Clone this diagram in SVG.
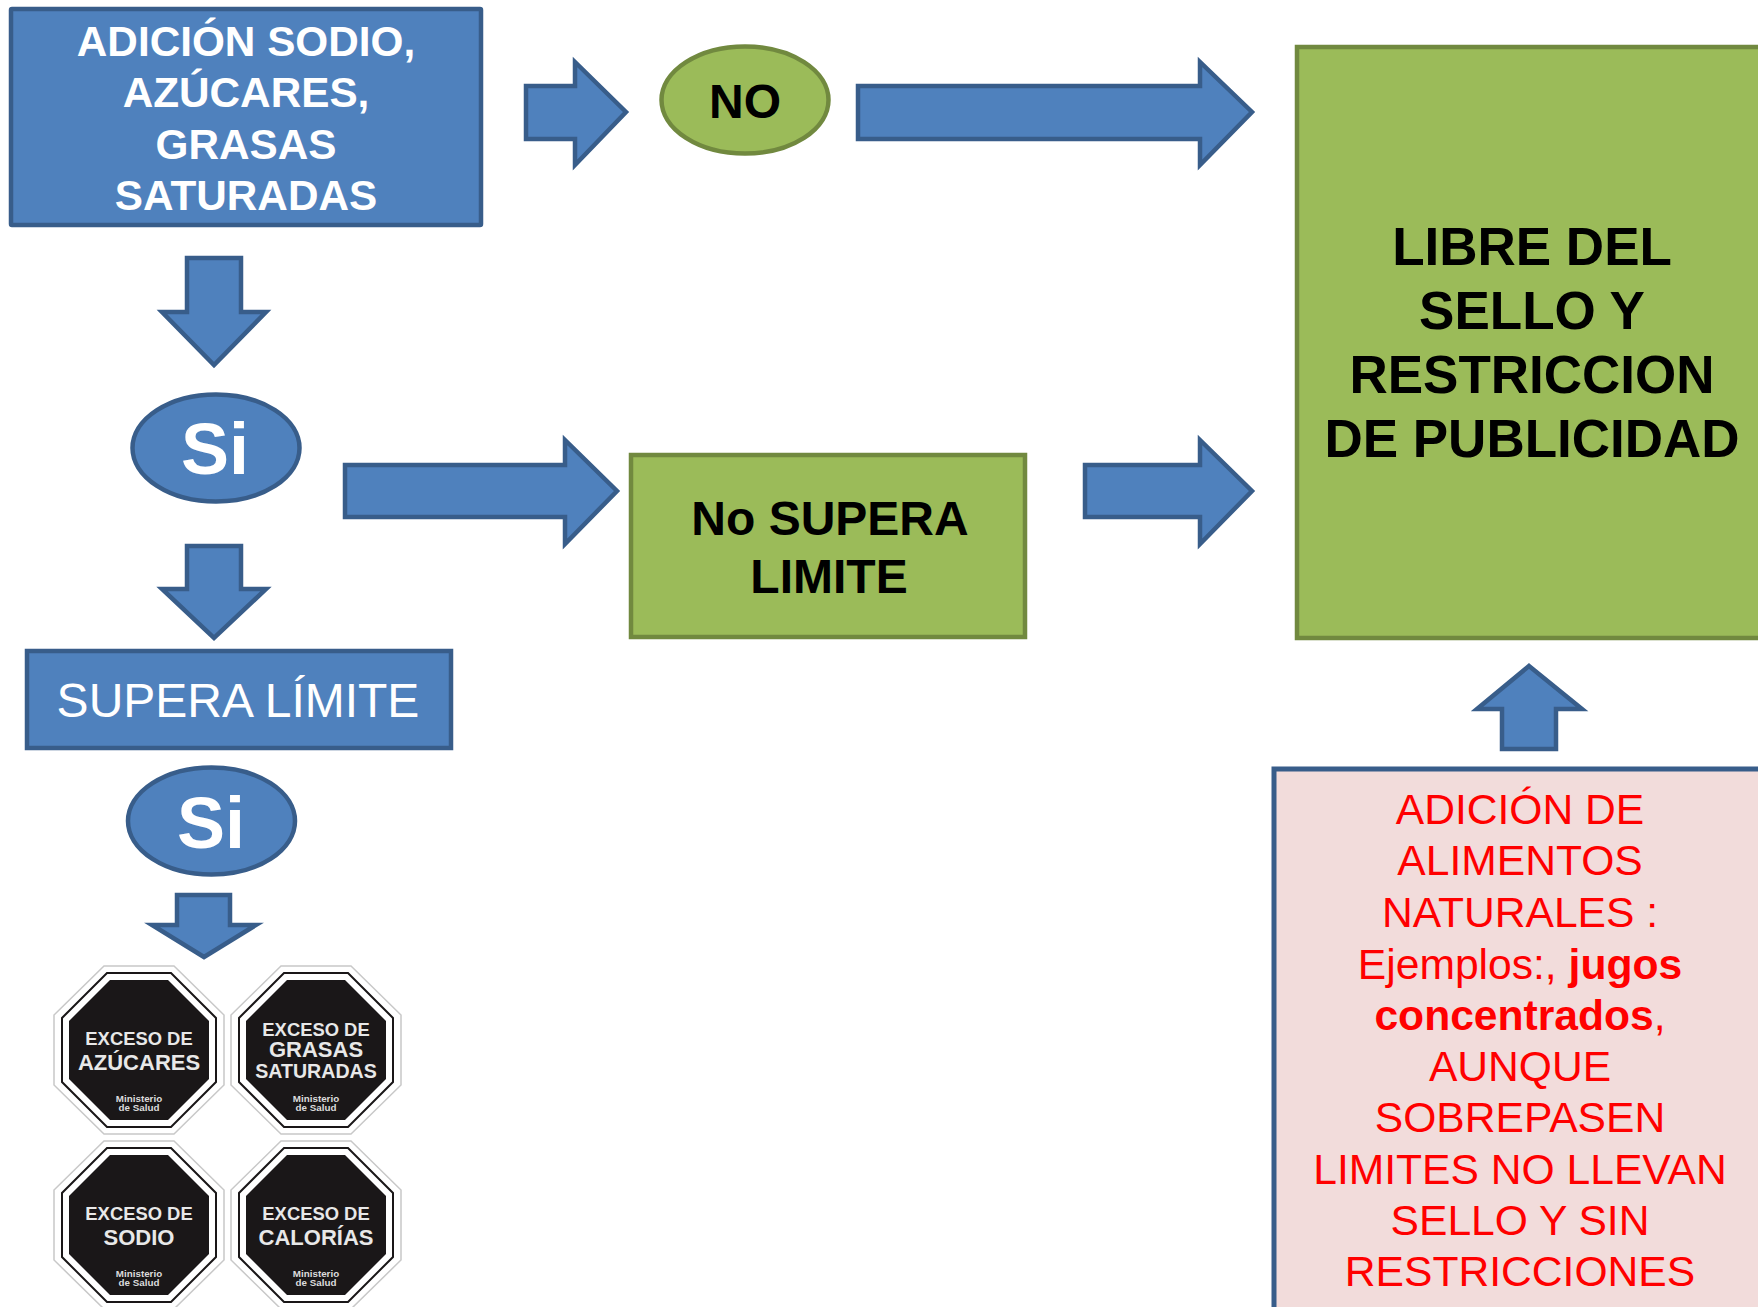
<svg xmlns="http://www.w3.org/2000/svg" width="1758" height="1307" viewBox="0 0 1758 1307">
<style>
text{font-family:"Liberation Sans",Arial,sans-serif;text-anchor:middle}
.b{fill:#4f81bd;stroke:#385d8a;stroke-width:4.5}
.g{fill:#9bbb59;stroke:#71893f;stroke-width:4.5}
.w{fill:#fff;font-weight:700}
.k{fill:#000;font-weight:700}
.r{fill:#f00;font-size:42.6px}
.s1{fill:#e8e8e8;font-weight:700;font-size:18.4px}
.s2{fill:#e8e8e8;font-weight:700;font-size:22px}
.s3{fill:#dcdcdc;font-weight:700;font-size:9.8px}
</style>
<defs>
<g id="oct">
<polygon points="-35,-84 35,-84 85,-35 85,35 35,84 -35,84 -85,35 -85,-35" fill="#fff" stroke="#c8c8c8" stroke-width="1.5"/>
<polygon points="-32,-77 32,-77 77,-32 77,32 32,77 -32,77 -77,32 -77,-32" fill="#fff" stroke="#1a1718" stroke-width="2"/>
<polygon points="-29,-70 29,-70 70,-29 70,29 29,70 -29,70 -70,29 -70,-29" fill="#1a1718"/>
</g>
</defs>
<rect width="1758" height="1307" fill="#fff"/>
<g id="connectors">
<polygon class="b" points="526,86 575,86 575,62 626,112 575,165 575,139 526,139"/>
<polygon class="b" points="858,86 1200,86 1200,62 1252,112 1200,165 1200,139 858,139"/>
<polygon class="b" points="187,258 241,258 241,312 266,312 214,365 162,312 187,312"/>
<polygon class="b" points="345,465 565,465 565,440 617,491 565,544 565,517 345,517"/>
<polygon class="b" points="1085,465 1200,465 1200,440 1252,491 1200,544 1200,517 1085,517"/>
<polygon class="b" points="187,546 241,546 241,589 266,589 214,638 162,589 187,589"/>
<polygon class="b" points="177,895 230,895 230,925 256,925 204,957 152,925 177,925"/>
<polygon class="b" points="1529,666 1582,709 1556,709 1556,749 1502,749 1502,709 1477,709"/>
</g>
<g id="n-adicion">
<rect class="b" x="11" y="9" width="470" height="216" rx="1"/>
<text class="w" font-size="42.3" x="246" y="56">ADICIÓN SODIO,</text><text class="w" font-size="42.3" x="246" y="107">AZÚCARES,</text><text class="w" font-size="42.3" x="246" y="159">GRASAS</text><text class="w" font-size="42.3" x="246" y="210">SATURADAS</text>
</g>
<g id="n-no"><ellipse class="g" cx="745" cy="100" rx="83.5" ry="53.5"/><text class="k" x="745" y="117.5" font-size="48">NO</text></g>
<g id="n-libre">
<rect class="g" x="1297" y="47" width="480" height="591"/>
<text class="k" font-size="53" x="1532" y="265">LIBRE DEL</text><text class="k" font-size="53" x="1532" y="329">SELLO Y</text><text class="k" font-size="53" x="1532" y="393">RESTRICCION</text><text class="k" font-size="53" x="1532" y="457">DE PUBLICIDAD</text>
</g>
<g id="n-si1"><ellipse class="b" cx="216" cy="448" rx="83.5" ry="53.5"/><text class="w" x="215" y="474" font-size="72">Si</text></g>
<g id="n-nosupera">
<rect class="g" x="631" y="455" width="394" height="182"/>
<text class="k" font-size="48" x="830" y="535">No SUPERA</text><text class="k" font-size="48" x="829" y="593">LIMITE</text>
</g>
<g id="n-supera"><rect class="b" x="27" y="651" width="424" height="97"/><text x="238" y="717" font-size="48" fill="#fff">SUPERA LÍMITE</text></g>
<g id="n-si2"><ellipse class="b" cx="211.500" cy="821" rx="83.5" ry="53.5"/><text class="w" x="211" y="848" font-size="72">Si</text></g>
<g id="n-pink">
<rect x="1274" y="769" width="520" height="570" fill="#f2dcdb" stroke="#385d8a" stroke-width="5"/>
<text class="r" x="1520" y="824">ADICIÓN DE</text>
<text class="r" x="1520" y="875">ALIMENTOS</text>
<text class="r" x="1520" y="927">NATURALES :</text>
<text class="r" x="1520" y="979">Ejemplos:, <tspan font-weight="700">jugos</tspan></text>
<text class="r" x="1520" y="1030"><tspan font-weight="700">concentrados</tspan>,</text>
<text class="r" x="1520" y="1081">AUNQUE</text>
<text class="r" x="1520" y="1132">SOBREPASEN</text>
<text class="r" x="1520" y="1184">LIMITES NO LLEVAN</text>
<text class="r" x="1520" y="1235">SELLO Y SIN</text>
<text class="r" x="1520" y="1286">RESTRICCIONES</text>
</g>
<g id="sello-azucares" transform="translate(139,1050)"><use href="#oct"/><text class="s1" y="-5">EXCESO DE</text><text class="s2" y="20">AZÚCARES</text><text class="s3" y="52">Ministerio</text><text class="s3" y="61">de Salud</text></g>
<g id="sello-grasas" transform="translate(316,1050)"><use href="#oct"/><text class="s1" y="-14">EXCESO DE</text><text class="s1" y="7" style="font-size:22px">GRASAS</text><text class="s1" y="28" style="font-size:19.6px">SATURADAS</text><text class="s3" y="52">Ministerio</text><text class="s3" y="61">de Salud</text></g>
<g id="sello-sodio" transform="translate(139,1225)"><use href="#oct"/><text class="s1" y="-5">EXCESO DE</text><text class="s2" y="20">SODIO</text><text class="s3" y="52">Ministerio</text><text class="s3" y="61">de Salud</text></g>
<g id="sello-calorias" transform="translate(316,1225)"><use href="#oct"/><text class="s1" y="-5">EXCESO DE</text><text class="s2" y="20">CALORÍAS</text><text class="s3" y="52">Ministerio</text><text class="s3" y="61">de Salud</text></g>
</svg>
